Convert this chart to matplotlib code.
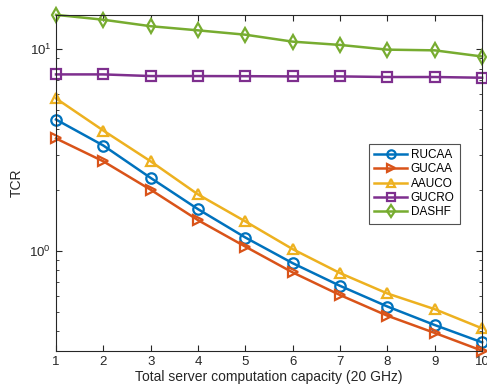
import numpy as np
import matplotlib.pyplot as plt
from matplotlib.ticker import LogLocator, NullFormatter

plt.rcParams['font.family'] = ['Liberation Sans', 'DejaVu Sans']

# 数据
x = [1, 2, 3, 4, 5, 6, 7, 8, 9, 10]
rucaa = [4.48, 3.33, 2.30, 1.61, 1.165, 0.869, 0.671, 0.530, 0.429, 0.352]
gucaa = [3.61, 2.78, 2.01, 1.42, 1.05, 0.782, 0.604, 0.477, 0.392, 0.32]
aauco = [5.7, 3.95, 2.78, 1.905, 1.40, 1.02, 0.776, 0.615, 0.514, 0.413]
gucro = [7.5, 7.5, 7.36, 7.36, 7.35, 7.33, 7.33, 7.28, 7.28, 7.22]
dashf = [14.8, 14.0, 13.0, 12.4, 11.8, 10.9, 10.5, 9.95, 9.87, 9.2]

names = ['RUCAA', 'GUCAA', 'AAUCO', 'GUCRO', 'DASHF']
colors = ['#0072BD', '#D95319', '#EDB120', '#7E2F8E', '#77AC30']
markers = ['o', '>', '^', 's', 'd']

fig = plt.figure(figsize=(4.87, 3.91), dpi=100)
ax = fig.add_axes([0.115, 0.103, 0.875, 0.859])

for ys, name, c, m in zip([rucaa, gucaa, aauco, gucro, dashf], names, colors, markers):
    ax.plot(x, ys, color=c, marker=m, markersize=7.5, markerfacecolor='none',
            markeredgewidth=1.6, linewidth=1.8, label=name, clip_on=False)

ax.set_yscale('log')
ax.set_xlim(1, 10)
ax.set_ylim(0.32, 14.8)
ax.set_xticks(x)
ax.yaxis.set_major_locator(LogLocator(base=10))
ax.yaxis.set_minor_locator(LogLocator(base=10, subs=np.arange(2, 10)))
ax.yaxis.set_minor_formatter(NullFormatter())

gray = '#262626'
for s in ax.spines.values():
    s.set_color(gray)
    s.set_linewidth(0.8)
ax.tick_params(which='both', direction='in', top=True, right=True,
               colors=gray, labelsize=9.5)
ax.tick_params(which='major', length=4)
ax.tick_params(which='minor', length=2.5)

ax.set_xlabel('Total server computation capacity (20 GHz)', fontsize=10, color=gray, labelpad=2)
ax.set_ylabel('TCR', fontsize=10, color=gray)

leg = ax.legend(loc='upper left', bbox_to_anchor=(0.72, 0.634), fontsize=8.5,
                frameon=True, fancybox=False, edgecolor=gray, handlelength=2.8,
                borderpad=0.45, labelspacing=0.2, handletextpad=0.3, markerscale=0.8)
leg.get_frame().set_linewidth(0.8)

plt.savefig('out.png', dpi=100)
